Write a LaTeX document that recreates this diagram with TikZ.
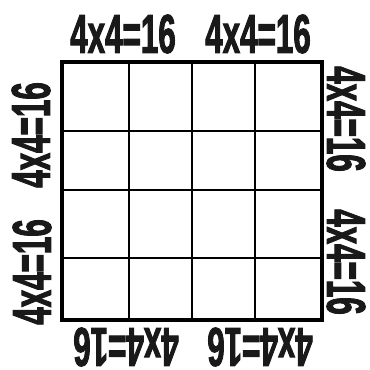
\documentclass[tikz,border=0pt]{standalone}
\usepackage{fontspec}
\newfontfamily\countfont[FakeStretch=0.57, FakeBold=1.6]{Liberation Sans}

\begin{document}
\begin{tikzpicture}[
    x=1pt, y=1pt,
    every node/.style={inner sep=0pt},
    sumlabel/.style={font=\countfont\bfseries\fontsize{55}{55}\selectfont,
                     text=black!90},
    gridline/.style={line width=2.8pt},
    frame/.style={line width=3.2pt}
]
    \useasboundingbox (0,0) rectangle (370,370);

    % the 4x4 board
    \foreach \gx in {129,192,255}
        \draw[gridline] (\gx,50) -- (\gx,308);
    \foreach \gy in {239,180,112}
        \draw[gridline] (62,\gy) -- (322,\gy);
    \draw[frame] (62,50) rectangle (322,308);

    % labels round the board
    \node[sumlabel] (top1) at (123,336) {4x4=16};
    \node[sumlabel] (top2) at (258,336) {4x4=16};
    \node[sumlabel, rotate=90] (left1) at (31,235) {4x4=16};
    \node[sumlabel, rotate=90] (left2) at (32,98) {4x4=16};
    \node[sumlabel, rotate=-90] (right1) at (346,251) {4x4=16};
    \node[sumlabel, rotate=-90] (right2) at (346,108) {4x4=16};
    \node[sumlabel, rotate=180] (bottom1) at (126,23) {4x4=16};
    \node[sumlabel, rotate=180] (bottom2) at (260,23) {4x4=16};
\end{tikzpicture}
\end{document}
